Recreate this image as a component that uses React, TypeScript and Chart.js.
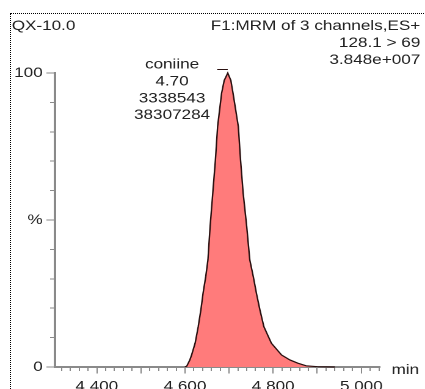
import React, { useEffect, useRef } from "react";
import { Chart, registerables } from "chart.js";

Chart.register(...registerables);

// Chromatogram trace: retention time (min) and relative intensity (%)
const retentionTimes = [
  4.6, 4.604, 4.611, 4.615, 4.623, 4.63, 4.636, 4.641, 4.647, 4.652, 4.657, 4.663,
  4.669, 4.674, 4.683, 4.689, 4.697, 4.704, 4.709, 4.721, 4.726, 4.732, 4.74, 4.747,
  4.755, 4.762, 4.77, 4.779, 4.796, 4.819, 4.838, 4.856, 4.875, 4.9, 4.94,
];
const intensities = [
  0, 0.3, 2.4, 4.1, 8.1, 13.7, 19.4, 25.1, 30.7, 36.4, 47.8, 59.1,
  70.4, 81.8, 93.1, 97.5, 100, 97.5, 93.1, 81.8, 70.4, 59.1, 47.8, 36.4,
  30.7, 25.1, 19.4, 13.7, 8.1, 4.1, 2.4, 1.3, 0.4, 0.1, 0,
];

// Peak annotation
const peakApexTime = 4.697;
const peakApexValue = 100;
const peakLabelLines = ["coniine", "4.70", "3338543", "38307284"];

// Header text
const headerLeft = "QX-10.0";
const headerRight = ["F1:MRM of 3 channels,ES+", "128.1 > 69", "3.848e+007"];
const xUnit = "min";

// Axis ticks
const xMin = 4.305;
const xMax = 5.042;
const xMinorStep = 0.02;
const xLabelValues = [4.4, 4.6, 4.8, 5.0];
const yMin = 0;
const yMax = 100;
const yMinorStep = 10;
const yLabelValues = [0, 50, 100];
const yLabelTexts = ["0", "%", "100"];

// Drawing surface (text in this plot is drawn wide, so the canvas is stretched horizontally)
const CANVAS_W = 348;
const CANVAS_H = 389;
const STRETCH = 425 / CANVAS_W;

const FONT = "'Liberation Sans', Arial, sans-serif";
const TEXT = "#222222";
const AXIS = "#8a8a8a";
const FILL = "#ff7b7b";
const TRACE = "#2a1010";

const overlay = {
  id: "overlay",
  beforeDraw(chart: any) {
    const { ctx, width, height } = chart;
    ctx.save();
    ctx.fillStyle = "#ffffff";
    ctx.fillRect(0, 0, width, height);
    ctx.restore();
  },
  afterDraw(chart: any) {
    const { ctx, chartArea, scales } = chart;
    const xs = scales.x;
    const ys = scales.y;
    const snap = (v: number) => Math.round(v * 2) / 2;
    ctx.save();

    // longer marks on the major ticks
    ctx.strokeStyle = AXIS;
    ctx.lineWidth = 1;
    ctx.beginPath();
    xs.ticks.forEach((t: any) => {
      if (Math.abs(t.value * 10 - Math.round(t.value * 10)) < 1e-6) {
        const px = snap(xs.getPixelForValue(t.value));
        ctx.moveTo(px, chartArea.bottom);
        ctx.lineTo(px, chartArea.bottom + 6.5);
      }
    });
    yLabelValues.forEach((v) => {
      const py = snap(ys.getPixelForValue(v));
      ctx.moveTo(chartArea.left - 7, py);
      ctx.lineTo(chartArea.left, py);
    });
    ctx.stroke();

    ctx.fillStyle = TEXT;
    ctx.font = `14px ${FONT}`;
    ctx.textBaseline = "alphabetic";

    // header
    ctx.textAlign = "left";
    ctx.fillText(headerLeft, 9.6, 30);
    ctx.textAlign = "right";
    headerRight.forEach((line, i) => ctx.fillText(line, 344.1, 29.8 + i * 17.1));

    // x unit
    ctx.textAlign = "left";
    ctx.fillText(xUnit, chartArea.right + 9.6, 374);

    // peak marker and label
    const ax = xs.getPixelForValue(peakApexTime);
    const ay = ys.getPixelForValue(peakApexValue);
    ctx.strokeStyle = TRACE;
    ctx.lineWidth = 1;
    ctx.beginPath();
    ctx.moveTo(ax - 8.6, snap(ay - 3.3));
    ctx.lineTo(ax, snap(ay - 3.3));
    ctx.stroke();
    ctx.textAlign = "center";
    peakLabelLines.forEach((line, i) => ctx.fillText(line, ax - 45.6, ay - 4.5 + i * 16.9));

    ctx.restore();
  },
};

export default function App() {
  const ref = useRef<HTMLCanvasElement>(null);

  useEffect(() => {
    const canvas = ref.current;
    if (!canvas) return;
    const chart = new Chart(canvas, {
      type: "line",
      data: {
        datasets: [
          {
            data: retentionTimes.map((t, i) => ({ x: t, y: intensities[i] })),
            borderColor: TRACE,
            borderWidth: 1.2,
            backgroundColor: FILL,
            fill: "origin",
            pointRadius: 0,
            tension: 0,
            clip: false,
          },
        ],
      },
      options: {
        animation: false,
        responsive: false,
        devicePixelRatio: 2,
        events: [],
        layout: { padding: { left: 0, top: 73, right: 37, bottom: 0 } },
        plugins: {
          legend: { display: false },
          tooltip: { enabled: false },
          title: { display: false },
        },
        scales: {
          x: {
            type: "linear",
            min: xMin,
            max: xMax,
            afterFit: (s: any) => {
              s.height = 22;
            },
            grid: { drawOnChartArea: false, drawTicks: true, tickLength: 4, color: AXIS, lineWidth: 1 },
            border: { display: true, color: AXIS, width: 2 },
            ticks: {
              stepSize: xMinorStep,
              includeBounds: false,
              autoSkip: false,
              maxRotation: 0,
              minRotation: 0,
              padding: 7,
              color: TEXT,
              font: { family: FONT, size: 14 },
              callback: (v: any) => {
                const n = Number(v);
                return xLabelValues.some((l) => Math.abs(l - n) < 1e-6) ? n.toFixed(3) : "";
              },
            },
          },
          y: {
            type: "linear",
            min: yMin,
            max: yMax,
            afterFit: (s: any) => {
              s.width = 45;
            },
            grid: { drawOnChartArea: false, drawTicks: true, tickLength: 4, color: AXIS, lineWidth: 1 },
            border: { display: true, color: AXIS, width: 2 },
            ticks: {
              stepSize: yMinorStep,
              autoSkip: false,
              padding: 6,
              color: TEXT,
              font: { family: FONT, size: 14 },
              callback: (v: any) => {
                const idx = yLabelValues.findIndex((l) => Math.abs(l - Number(v)) < 1e-6);
                return idx >= 0 ? yLabelTexts[idx] : "";
              },
            },
          },
        },
      },
      plugins: [overlay],
    });
    return () => chart.destroy();
  }, []);

  return (
    <div style={{ position: "absolute", left: 0, top: 0, width: 425, height: 389, overflow: "hidden", background: "#ffffff" }}>
      <div
        style={{
          position: "absolute",
          left: 0,
          top: 0,
          width: CANVAS_W,
          height: CANVAS_H,
          transform: `scaleX(${STRETCH})`,
          transformOrigin: "0 0",
          zIndex: 0,
        }}
      >
        <canvas ref={ref} width={CANVAS_W} height={CANVAS_H} style={{ display: "block" }} />
      </div>
      {/* dotted frame around the trace window */}
      <div
        style={{
          position: "absolute",
          left: 10,
          top: 13,
          width: 440,
          height: 400,
          borderLeft: "1px dotted #000000",
          borderTop: "1px dotted #000000",
          boxSizing: "border-box",
          zIndex: 2,
          pointerEvents: "none",
        }}
      />
    </div>
  );
}
